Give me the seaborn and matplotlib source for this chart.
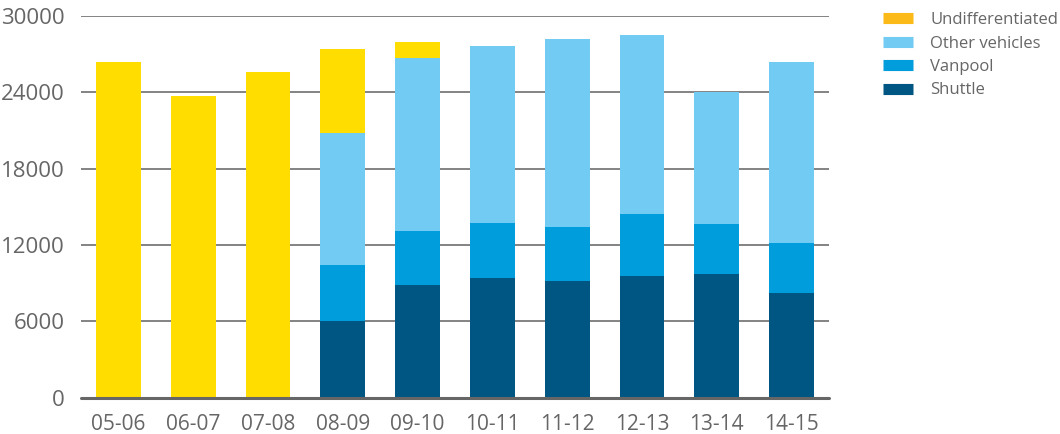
import numpy as np
import pandas as pd
import matplotlib
matplotlib.use("Agg")
import matplotlib.pyplot as plt
from matplotlib.lines import Line2D
import seaborn as sns

years = ["05-06", "06-07", "07-08", "08-09", "09-10", "10-11", "11-12", "12-13", "13-14", "14-15"]
shuttle = [0, 0, 0, 6030, 8860, 9410, 9170, 9570, 9720, 8230]
vanpool = [0, 0, 0, 4400, 4240, 4320, 4250, 4870, 3940, 3930]
other_vehicles = [0, 0, 0, 10380, 13630, 13920, 14780, 14070, 10370, 14230]
undifferentiated = [26390, 23720, 25600, 6600, 1230, 0, 0, 0, 0, 0]
y_ticks = [0, 6000, 12000, 18000, 24000, 30000]

c_undiff_bar = "#FFDD00"
c_undiff_leg = "#FBBA17"
c_other = "#72CBF2"
c_van = "#009DDC"
c_shuttle = "#005683"

sns.set_theme(style="white")
plt.rcParams["font.family"] = ["Open Sans", "DejaVu Sans"]

df = pd.DataFrame({
    "year": years,
    "shuttle": shuttle,
    "vanpool": vanpool,
    "other": other_vehicles,
    "undiff": undifferentiated,
})
df["c1"] = df["shuttle"]
df["c2"] = df["c1"] + df["vanpool"]
df["c3"] = df["c2"] + df["other"]
df["c4"] = df["c3"] + df["undiff"]

fig = plt.figure(figsize=(10.6, 4.34), dpi=100)
ax = fig.add_axes([81 / 1060, (434 - 397.7) / 434, (829 - 81) / 1060, (397.7 - 16) / 434])

for col, color in [("c4", c_undiff_bar), ("c3", c_other), ("c2", c_van), ("c1", c_shuttle)]:
    sns.barplot(data=df, x="year", y=col, color=color, width=0.6, saturation=1,
                order=years, ax=ax, zorder=2, linewidth=0)

ax.set_xlim(-0.5, len(years) - 0.5)
ax.set_ylim(0, 30000)
ax.set_yticks(y_ticks)
ax.set_yticklabels([str(v) for v in y_ticks])
ax.set_xlabel("")
ax.set_ylabel("")
for v in y_ticks[1:]:
    ax.axhline(v, color="#7a7a7a", lw=1.3, zorder=1)
ax.axhline(0, color="#666666", lw=2.2, zorder=3, clip_on=False)
for s in ax.spines.values():
    s.set_visible(False)
ax.tick_params(axis="y", length=0, labelsize=16, colors="#666666", pad=12)
ax.tick_params(axis="x", length=0, labelsize=15, colors="#666666", pad=12)

handles = [
    Line2D([0], [0], color=c_undiff_leg, lw=8, solid_capstyle="butt"),
    Line2D([0], [0], color=c_other, lw=8, solid_capstyle="butt"),
    Line2D([0], [0], color=c_van, lw=8, solid_capstyle="butt"),
    Line2D([0], [0], color=c_shuttle, lw=8, solid_capstyle="butt"),
]
labels = ["Undifferentiated", "Other vehicles", "Vanpool", "Shuttle"]
leg = fig.legend(handles, labels, loc="upper left", bbox_to_anchor=(883 / 1060, 1 - 12 / 434),
                 frameon=False, fontsize=12, handlelength=1.8, handletextpad=1.05,
                 labelspacing=0.45, borderaxespad=0, borderpad=0)
for t in leg.get_texts():
    t.set_color("#666666")

fig.savefig("out.png", dpi=100)
